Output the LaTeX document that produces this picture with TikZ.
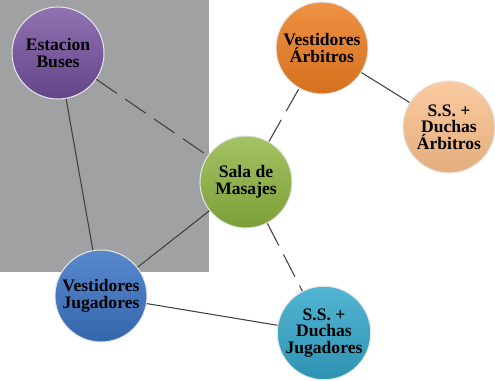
\documentclass[tikz,border=0pt]{standalone}
\usepackage{fontspec}
\setmainfont{Liberation Serif}
\usepackage{tikz}
\usetikzlibrary{positioning}

\definecolor{fondogris}{HTML}{A0A1A3}
\definecolor{morado}{HTML}{7550A0}
\definecolor{naranja}{HTML}{EC7E22}
\definecolor{durazno}{HTML}{F8BD88}
\definecolor{verde}{HTML}{8DB43E}
\definecolor{azul}{HTML}{3B74C4}
\definecolor{celeste}{HTML}{34A7CB}

\begin{document}
\begin{tikzpicture}[
  area/.style={circle, draw=white!80!gray, line width=0.6pt, minimum size=18.4mm, inner sep=0.5pt, align=center, font={\bfseries\normalsize\baselineskip=9.5pt}, text=black},
  linea/.style={line width=0.6pt, draw=black!75},
  guion/.style={linea, dash pattern=on 5mm off 2mm}
]
\useasboundingbox (0,0) rectangle (9.90,-7.62);
\fill[fondogris] (0,0) rectangle (4.18,-5.44);
\node[area, top color=morado!80!white, bottom color=morado!85!black] (est) at (1.16,-1.06) {Estacion\\Buses};
\node[area, top color=naranja!85!white, bottom color=naranja!90!black] (varb) at (6.44,-0.96) {Vestidores\\Árbitros};
\node[area, top color=durazno!80!white, bottom color=durazno!92!black] (ssarb) at (8.98,-2.54) {S.S. +\\Duchas\\Árbitros};
\node[area, top color=verde!80!white, bottom color=verde!88!black] (sala) at (4.92,-3.64) {Sala de\\Masajes};
\node[area, top color=azul!85!white, bottom color=azul!88!black] (vjug) at (2.02,-5.92) {Vestidores\\Jugadores};
\node[area, top color=celeste!85!white, bottom color=celeste!88!black] (ssjug) at (6.48,-6.66) {S.S. +\\Duchas\\Jugadores};
\draw[guion] (est) -- (sala);
\draw[linea] (est) -- (vjug);
\draw[guion] (sala) -- (varb);
\draw[linea] (varb) -- (ssarb);
\draw[linea] (sala) -- (vjug);
\draw[guion] (sala) -- (ssjug);
\draw[linea] (vjug) -- (ssjug);
\end{tikzpicture}
\end{document}
